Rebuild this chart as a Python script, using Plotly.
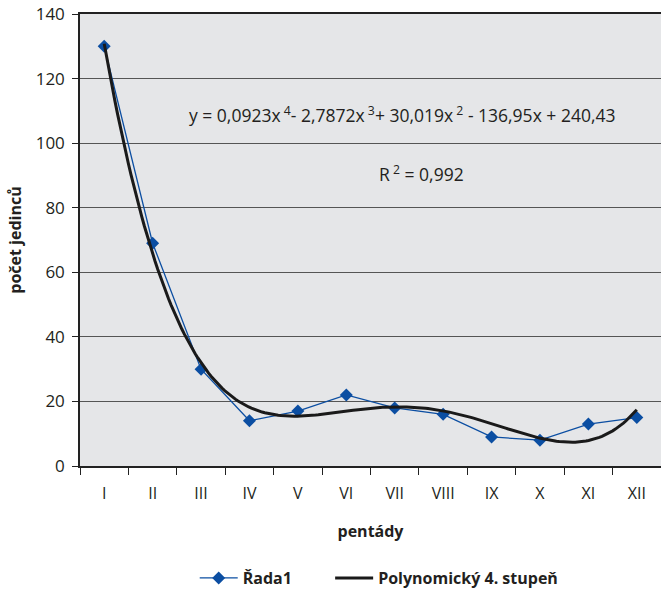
import numpy as np
import plotly.graph_objects as go

categories = ["I", "II", "III", "IV", "V", "VI", "VII", "VIII", "IX", "X", "XI", "XII"]
rada1 = [130, 69, 30, 14, 17, 22, 18, 16, 9, 8, 13, 15]
# polynomial trendline coefficients shown in the chart (x^4 .. x^0)
poly_coef = [0.0923, -2.7872, 30.019, -136.95, 240.43]
y_ticks = [0, 20, 40, 60, 80, 100, 120, 140]

xpos = np.arange(1, len(categories) + 1)
xs = np.linspace(1, len(categories), 200)
ys = np.polyval(poly_coef, xs)

FONT = "Open Sans"
BLUE = "#0B4EA2"
TXT = "#231F20"
NB = "\u00a0"

fig = go.Figure()
fig.add_trace(go.Scatter(
    x=xpos, y=rada1, mode="lines+markers", name="Řada1" + NB * 8,
    line=dict(color=BLUE, width=1.3),
    marker=dict(symbol="diamond", size=10, color=BLUE),
))
fig.add_trace(go.Scatter(
    x=xs, y=ys, mode="lines", name="Polynomický 4. stupeň",
    line=dict(color="#1a1a1a", width=3), xaxis="x2",
))

fig.update_layout(
    width=661, height=595,
    margin=dict(l=80, r=0, t=14, b=129),
    paper_bgcolor="white", plot_bgcolor="#E5E6E8",
    font=dict(family=FONT, size=17, color=TXT),
    xaxis=dict(
        range=[0.5, 12.5], tickvals=list(xpos), ticktext=categories,
        ticks="", showgrid=False, zeroline=False, automargin=False,
        showline=True, linecolor="#222", linewidth=1.5, mirror=True,
        ticklabelstandoff=12, tickfont=dict(size=16),
        title=dict(text="<b>pentády</b>", font=dict(size=16), standoff=23),
    ),
    xaxis2=dict(
        range=[0.5, 12.5], overlaying="x", anchor="y", side="bottom",
        tickvals=list(np.arange(0.5, 13, 1)), showticklabels=False,
        ticks="outside", ticklen=8, tickcolor="#222", tickwidth=1,
        showgrid=False, zeroline=False, showline=False, automargin=False,
    ),
    yaxis=dict(
        range=[0, 140], tickvals=y_ticks, ticks="outside", ticklen=6,
        tickcolor="#222", showgrid=True, gridcolor="#555", gridwidth=1,
        zeroline=False, showline=True, linecolor="#222", linewidth=1.5,
        tickfont=dict(size=17), ticklabelstandoff=4, automargin=False,
        title=dict(text="<b>počet jedinců</b>", font=dict(size=16), standoff=10),
    ),
    legend=dict(
        orientation="h", x=0.515, xanchor="center", y=-0.248, yanchor="middle",
        font=dict(size=16, weight="bold"), itemwidth=38, traceorder="normal",
    ),
    showlegend=True,
)

fig.add_annotation(
    x=0.554, y=0.81, xref="paper", yref="paper",
    text="y = 0,0923x<sup> 4</sup>- 2,7872x<sup> 3</sup>+ 30,019x<sup> 2</sup> - 136,95x + 240,43",
    showarrow=False, font=dict(size=17.5, color=TXT),
)
fig.add_annotation(
    x=0.587, y=0.648, xref="paper", yref="paper",
    text="R<sup> 2</sup> = 0,992",
    showarrow=False, font=dict(size=17.5, color=TXT),
)

fig.write_html(
    "out.html",
    config={"displayModeBar": False},
    post_script="document.body.style.margin='0';document.body.style.overflow='hidden';",
)
